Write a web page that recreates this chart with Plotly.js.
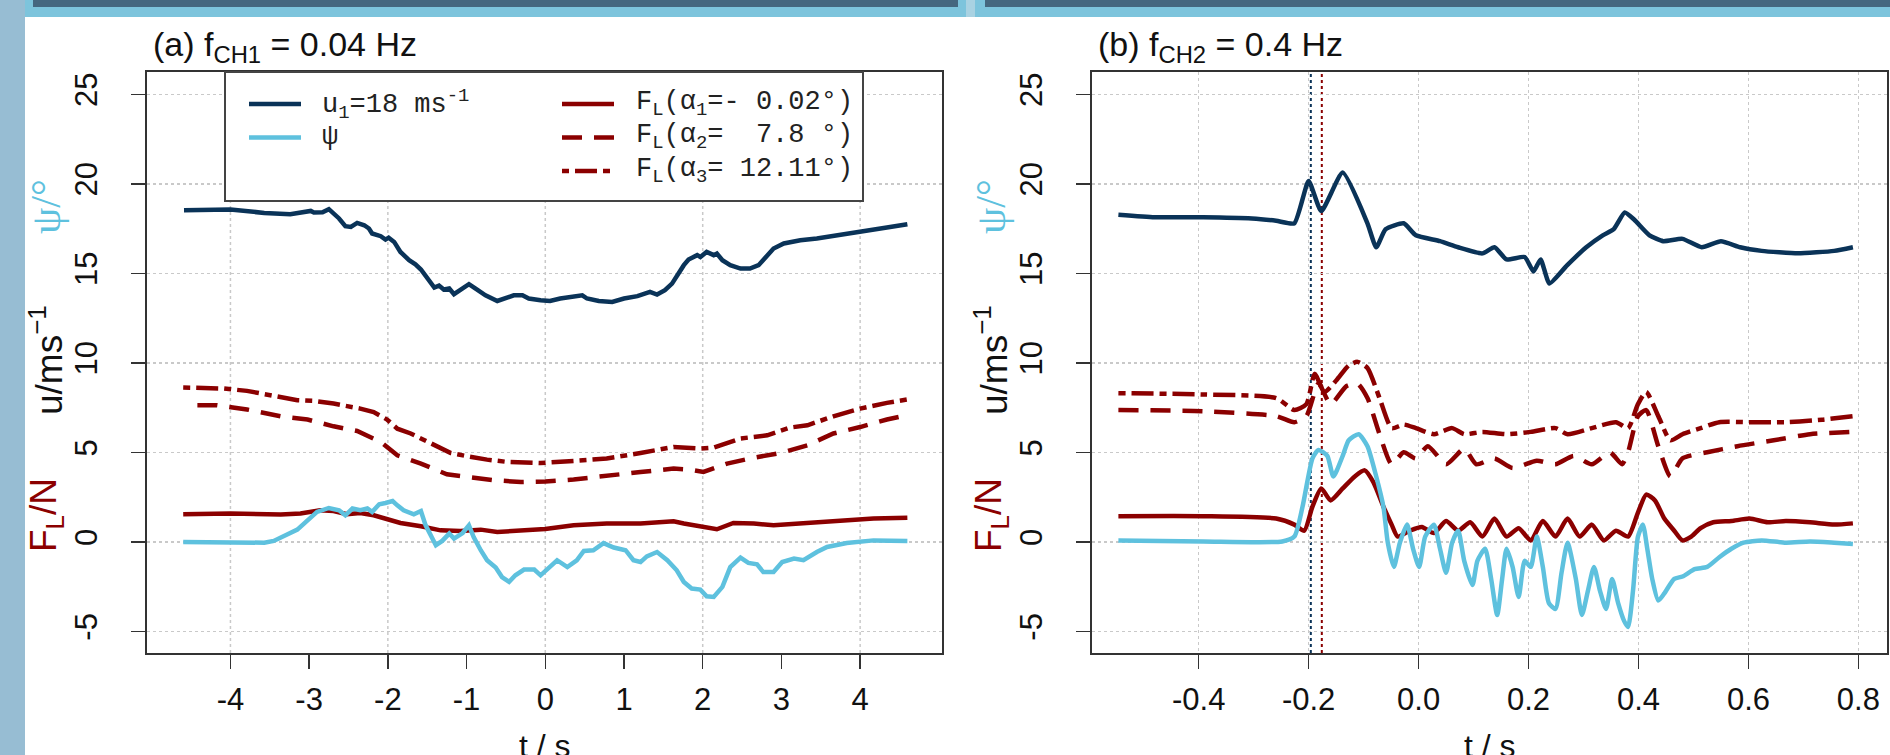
<!DOCTYPE html>
<html>
<head>
<meta charset="utf-8">
<script src="https://cdn.plot.ly/plotly-3.0.1.min.js"></script>
<style>
  html, body { margin: 0; padding: 0; background: #ffffff; }
  #chart { width: 1890px; height: 755px; }
</style>
</head>
<body>
<div id="chart"></div>
<script>
// ---- (a) slow change, f_CH1 = 0.04 Hz : [t / s, value] ----
const uA = [[-4.59,18.53],[-4.0,18.57],[-3.57,18.38],[-3.24,18.31],[-2.98,18.49],[-2.94,18.40],[-2.83,18.42],[-2.75,18.59],[-2.62,18.07],[-2.54,17.64],[-2.47,17.60],[-2.39,17.82],[-2.30,17.69],[-2.24,17.51],[-2.20,17.23],[-2.09,17.08],[-2.03,16.89],[-1.99,17.0],[-1.92,16.76],[-1.84,16.20],[-1.73,15.74],[-1.65,15.51],[-1.58,15.22],[-1.50,14.71],[-1.41,14.21],[-1.35,14.32],[-1.29,14.10],[-1.22,14.16],[-1.16,13.84],[-1.05,14.16],[-0.97,14.40],[-0.89,14.16],[-0.76,13.78],[-0.61,13.46],[-0.50,13.60],[-0.40,13.78],[-0.29,13.78],[-0.21,13.60],[-0.06,13.50],[0.06,13.46],[0.19,13.60],[0.32,13.69],[0.47,13.78],[0.53,13.60],[0.68,13.46],[0.85,13.41],[1.0,13.60],[1.17,13.73],[1.33,13.97],[1.42,13.82],[1.52,14.06],[1.61,14.43],[1.69,15.0],[1.76,15.46],[1.82,15.78],[1.93,16.02],[1.97,15.92],[2.05,16.20],[2.14,16.02],[2.18,16.11],[2.25,15.74],[2.35,15.46],[2.48,15.27],[2.60,15.27],[2.71,15.46],[2.82,16.02],[2.90,16.39],[3.03,16.67],[3.24,16.85],[3.45,16.95],[3.66,17.08],[4.0,17.32],[4.34,17.56],[4.60,17.75]];

const psiA = [[-4.60,0.0],[-4.0,-0.04],[-3.57,-0.04],[-3.45,0.06],[-3.28,0.43],[-3.15,0.69],[-3.02,1.21],[-2.90,1.68],[-2.75,1.90],[-2.62,1.77],[-2.54,1.49],[-2.45,1.87],[-2.35,1.77],[-2.26,1.87],[-2.20,1.68],[-2.11,2.11],[-2.03,2.18],[-1.94,2.29],[-1.88,2.05],[-1.80,1.77],[-1.67,1.55],[-1.58,1.73],[-1.52,0.93],[-1.46,0.47],[-1.39,-0.18],[-1.31,0.06],[-1.22,0.47],[-1.16,0.19],[-1.05,0.50],[-0.97,0.93],[-0.91,0.28],[-0.82,-0.46],[-0.74,-1.02],[-0.63,-1.43],[-0.55,-1.96],[-0.46,-2.23],[-0.38,-1.86],[-0.27,-1.54],[-0.14,-1.54],[-0.06,-1.86],[-0.02,-1.70],[0.06,-1.40],[0.15,-1.02],[0.28,-1.40],[0.40,-1.02],[0.49,-0.50],[0.61,-0.46],[0.74,-0.06],[0.87,-0.31],[1.02,-0.46],[1.12,-1.02],[1.21,-1.12],[1.29,-0.80],[1.42,-0.56],[1.55,-1.02],[1.67,-1.58],[1.76,-2.23],[1.86,-2.60],[1.97,-2.66],[2.05,-3.03],[2.14,-3.07],[2.25,-2.51],[2.35,-1.40],[2.48,-0.87],[2.58,-1.17],[2.69,-1.25],[2.77,-1.68],[2.90,-1.68],[3.01,-1.12],[3.16,-0.93],[3.28,-1.02],[3.45,-0.56],[3.58,-0.28],[3.83,-0.06],[4.17,0.09],[4.60,0.06]];

const fl1A = [[-4.60,1.55],[-4.0,1.59],[-3.36,1.53],[-3.11,1.59],[-2.86,1.77],[-2.69,1.73],[-2.52,1.55],[-2.35,1.62],[-2.18,1.49],[-2.01,1.25],[-1.84,1.06],[-1.58,0.88],[-1.33,0.65],[-1.08,0.61],[-0.82,0.69],[-0.61,0.56],[-0.31,0.65],[0.0,0.72],[0.36,0.93],[0.78,1.03],[1.21,1.03],[1.63,1.16],[1.76,1.03],[1.97,0.84],[2.18,0.71],[2.39,1.06],[2.65,1.03],[2.90,0.93],[3.33,1.06],[3.75,1.21],[4.17,1.31],[4.60,1.36]];

const fl2A = [[-4.42,7.64],[-4.17,7.64],[-3.79,7.40],[-3.36,7.02],[-3.02,6.84],[-2.69,6.46],[-2.39,6.20],[-2.09,5.59],[-1.88,4.84],[-1.58,4.38],[-1.25,3.78],[-0.99,3.63],[-0.65,3.45],[-0.31,3.35],[0.0,3.38],[0.36,3.49],[0.78,3.67],[1.21,3.91],[1.63,4.10],[1.84,4.04],[2.01,3.91],[2.31,4.38],[2.65,4.71],[2.99,4.97],[3.33,5.40],[3.66,6.06],[4.0,6.42],[4.34,6.84],[4.60,7.09]];

const fl3A = [[-4.60,8.63],[-4.08,8.57],[-3.79,8.44],[-3.45,8.14],[-3.15,7.92],[-2.94,7.88],[-2.69,7.73],[-2.35,7.45],[-2.18,7.26],[-2.01,6.84],[-1.88,6.33],[-1.71,6.06],[-1.46,5.53],[-1.20,4.97],[-0.99,4.79],[-0.74,4.60],[-0.48,4.47],[-0.06,4.41],[0.36,4.53],[0.78,4.66],[1.21,4.97],[1.63,5.31],[1.97,5.22],[2.14,5.27],[2.48,5.78],[2.82,5.96],[3.11,6.39],[3.33,6.52],[3.66,7.02],[4.0,7.45],[4.34,7.77],[4.60,7.96]];

// ---- (b) fast change, f_CH2 = 0.4 Hz : [t / s, value] ----
const uB = [[-0.546,18.28],[-0.480,18.14],[-0.392,18.14],[-0.303,18.07],[-0.259,17.94],[-0.226,17.80],[-0.200,20.16],[-0.177,18.48],[-0.138,20.63],[-0.093,17.80],[-0.077,16.46],[-0.060,17.47],[-0.027,17.80],[-0.005,17.13],[0.039,16.80],[0.072,16.46],[0.116,16.12],[0.138,16.46],[0.160,15.78],[0.193,15.92],[0.209,15.11],[0.222,15.78],[0.238,14.44],[0.270,15.45],[0.305,16.46],[0.335,17.13],[0.355,17.47],[0.375,18.40],[0.392,18.01],[0.420,17.13],[0.445,16.80],[0.480,16.93],[0.515,16.46],[0.550,16.80],[0.585,16.46],[0.624,16.26],[0.690,16.12],[0.756,16.26],[0.79,16.46]];

const psiB = [[-0.546,0.09],[-0.392,0.03],[-0.248,0.03],[-0.226,0.30],[-0.211,1.98],[-0.193,4.67],[-0.182,5.14],[-0.166,4.81],[-0.155,3.66],[-0.138,4.81],[-0.127,5.68],[-0.109,6.02],[-0.093,5.35],[-0.077,3.66],[-0.064,1.98],[-0.056,-0.04],[-0.045,-1.39],[-0.034,-0.04],[-0.021,0.97],[-0.010,-0.38],[0.001,-1.39],[0.012,0.30],[0.028,0.97],[0.039,-0.38],[0.050,-1.72],[0.061,-0.04],[0.072,0.63],[0.083,-1.05],[0.098,-2.40],[0.107,-1.05],[0.121,-0.38],[0.132,-2.06],[0.143,-4.08],[0.152,-2.06],[0.160,-0.38],[0.171,-1.39],[0.182,-3.07],[0.193,-1.05],[0.204,-1.39],[0.215,0.30],[0.226,-1.39],[0.237,-3.41],[0.249,-3.74],[0.260,-1.72],[0.271,-0.04],[0.286,-2.06],[0.297,-4.08],[0.308,-2.73],[0.319,-1.39],[0.330,-2.73],[0.341,-3.74],[0.352,-2.06],[0.363,-3.41],[0.374,-4.42],[0.381,-4.75],[0.390,-2.73],[0.399,0.30],[0.408,0.97],[0.416,-0.38],[0.425,-2.06],[0.436,-3.27],[0.447,-2.87],[0.465,-2.06],[0.480,-1.93],[0.502,-1.52],[0.525,-1.39],[0.547,-0.85],[0.569,-0.38],[0.591,-0.04],[0.624,0.09],[0.668,-0.04],[0.712,0.03],[0.756,-0.04],[0.79,-0.11]];

const fl1B = [[-0.546,1.44],[-0.392,1.44],[-0.259,1.31],[-0.226,0.97],[-0.208,0.63],[-0.193,1.98],[-0.177,2.99],[-0.160,2.32],[-0.138,2.99],[-0.116,3.66],[-0.098,4.00],[-0.082,3.33],[-0.064,1.98],[-0.049,0.97],[-0.038,0.30],[-0.016,0.63],[0.006,0.84],[0.028,0.50],[0.050,1.17],[0.072,0.63],[0.094,1.10],[0.116,0.30],[0.138,1.31],[0.160,0.30],[0.182,0.77],[0.204,0.09],[0.226,1.17],[0.249,0.30],[0.271,1.31],[0.293,0.30],[0.315,0.97],[0.337,0.09],[0.359,0.63],[0.381,0.30],[0.399,1.64],[0.414,2.65],[0.430,2.32],[0.447,1.31],[0.465,0.63],[0.480,0.09],[0.496,0.30],[0.513,0.77],[0.536,1.10],[0.569,1.17],[0.602,1.31],[0.635,1.10],[0.668,1.17],[0.712,1.10],[0.756,0.97],[0.79,1.04]];

const fl2B = [[-0.546,7.37],[-0.392,7.30],[-0.259,7.03],[-0.226,6.69],[-0.204,7.03],[-0.182,8.85],[-0.160,7.70],[-0.131,8.71],[-0.111,8.85],[-0.093,8.04],[-0.071,6.02],[-0.049,4.34],[-0.027,5.01],[-0.005,4.67],[0.017,5.35],[0.050,4.34],[0.083,5.21],[0.105,4.34],[0.138,4.67],[0.171,4.13],[0.215,4.54],[0.249,4.34],[0.282,4.81],[0.315,4.34],[0.348,5.01],[0.370,4.34],[0.381,5.01],[0.399,7.03],[0.414,7.37],[0.436,5.35],[0.458,3.66],[0.480,4.67],[0.525,5.01],[0.580,5.35],[0.646,5.68],[0.712,6.02],[0.79,6.15]];

const fl3B = [[-0.546,8.31],[-0.392,8.24],[-0.259,8.04],[-0.226,7.37],[-0.204,7.70],[-0.189,9.39],[-0.171,8.38],[-0.149,9.05],[-0.127,9.86],[-0.111,10.06],[-0.093,9.72],[-0.071,8.04],[-0.049,6.36],[-0.027,6.56],[-0.005,6.36],[0.028,6.02],[0.061,6.36],[0.083,6.02],[0.116,6.15],[0.160,6.02],[0.204,6.15],[0.249,6.36],[0.271,6.02],[0.315,6.36],[0.359,6.69],[0.381,6.36],[0.399,7.70],[0.414,8.38],[0.436,7.03],[0.458,5.68],[0.480,6.02],[0.513,6.36],[0.547,6.69],[0.602,6.69],[0.668,6.69],[0.734,6.83],[0.79,7.03]];

// event markers in (b): onset of wind speed change and of lift response
const onsetU = -0.196;
const onsetF = -0.176;

// axis ticks and labels
const tickA = [-4, -3, -2, -1, 0, 1, 2, 3, 4];
const gridA = [-4, -2, 0, 2, 4];
const tickB = [-0.4, -0.2, 0.0, 0.2, 0.4, 0.6, 0.8];
const tickY = [-5, 0, 5, 10, 15, 20, 25];

const legendLeft = ['u<sub>1</sub>=18 ms<sup>-1</sup>', 'ψ'];
const legendRight = [
  'F<sub>L</sub>(α<sub>1</sub>=-\u00a00.02°)',
  'F<sub>L</sub>(α<sub>2</sub>=\u00a0\u00a07.8\u00a0°)',
  'F<sub>L</sub>(α<sub>3</sub>=\u00a012.11°)'
];

// ---- styling ----
const W = 1890, H = 755;
const C_U = '#0a3358', C_PSI = '#5ec1de', C_F = '#8b0000';
const DASH2 = '20px,12px';
const DASH3 = '7px,6px,22px,6px';
const LW = 4.5;
const SANS = 'Liberation Sans, Arial, Helvetica, sans-serif';
const SERIF = 'Liberation Serif, Times New Roman, serif';
const MONO = 'Liberation Mono, Courier New, monospace';

const px = v => v / W;
const py = v => 1 - v / H;

// panel frames in pixels
const PA = { x0: 147, x1: 942 };
const PB = { x0: 1092, x1: 1887 };
const PY = { top: 72, bottom: 653 };

// the fast record (b) is sampled coarsely, so it is drawn as a smooth curve
function series(pairs, xa, ya, color, dash, name, smooth) {
  const line = { color: color, width: LW, dash: dash || 'solid' };
  if (smooth) { line.shape = 'spline'; line.smoothing = smooth; }
  return {
    type: 'scatter', mode: 'lines', name: name,
    x: pairs.map(p => p[0]), y: pairs.map(p => p[1]),
    xaxis: xa, yaxis: ya, showlegend: false, hoverinfo: 'skip',
    line: line
  };
}

const traces = [
  series(fl3A, 'x', 'y', C_F, DASH3, 'F_L alpha3'),
  series(fl2A, 'x', 'y', C_F, DASH2, 'F_L alpha2'),
  series(fl1A, 'x', 'y', C_F, 'solid', 'F_L alpha1'),
  series(uA, 'x', 'y', C_U, 'solid', 'u1'),
  series(psiA, 'x', 'y', C_PSI, 'solid', 'psi'),
  series(fl3B, 'x2', 'y2', C_F, DASH3, 'F_L alpha3', 0.6),
  series(fl2B, 'x2', 'y2', C_F, DASH2, 'F_L alpha2', 0.6),
  series(fl1B, 'x2', 'y2', C_F, 'solid', 'F_L alpha1', 0.6),
  series(uB, 'x2', 'y2', C_U, 'solid', 'u1', 0.5),
  series(psiB, 'x2', 'y2', C_PSI, 'solid', 'psi', 0.6)
];

const axBase = {
  showline: true, mirror: true, linecolor: '#333', linewidth: 2,
  ticks: 'outside', ticklen: 14, tickwidth: 1.5, tickcolor: '#333',
  tickfont: { family: SANS, size: 31, color: '#111' },
  zeroline: false, fixedrange: true,
  gridcolor: '#c9c9c9', gridwidth: 1.5, griddash: 'dot'
};

const yDomain = [py(PY.bottom), py(PY.top)];
const yAxis = Object.assign({}, axBase, {
  domain: yDomain, range: [-6.2, 26.25],
  tickmode: 'array', tickvals: tickY, ticktext: tickY.map(String),
  tickangle: -90, showgrid: true, ticklabelstandoff: 22
});

const layout = {
  width: W, height: H,
  margin: { l: 0, r: 0, t: 0, b: 0, pad: 0 },
  paper_bgcolor: '#ffffff', plot_bgcolor: 'rgba(0,0,0,0)',
  showlegend: false,
  font: { family: SANS, color: '#111' },
  xaxis: Object.assign({}, axBase, {
    domain: [px(PA.x0), px(PA.x1)], range: [-5.06, 5.04], anchor: 'y',
    tickmode: 'array', tickvals: tickA, ticktext: tickA.map(String),
    showgrid: false, ticklabelstandoff: 4
  }),
  yaxis: Object.assign({}, yAxis, { anchor: 'x' }),
  xaxis2: Object.assign({}, axBase, {
    domain: [px(PB.x0), px(PB.x1)], range: [-0.594, 0.852], anchor: 'y2',
    tickmode: 'array', tickvals: tickB, ticktext: tickB.map(v => v.toFixed(1)),
    showgrid: true, ticklabelstandoff: 4
  }),
  yaxis2: Object.assign({}, yAxis, { anchor: 'x2' }),
  shapes: [],
  annotations: []
};

// slide frame around the figure
const S = layout.shapes;
function rectPx(x0, y0, x1, y1, fill, layer) {
  S.push({ type: 'rect', xref: 'paper', yref: 'paper', x0: px(x0), x1: px(x1), y0: py(y1), y1: py(y0),
           fillcolor: fill, line: { width: 0 }, layer: layer || 'below' });
}
rectPx(0, 0, 25, H, '#97bdd3');
rectPx(25, 0, W, 17, '#7dc4dc');
rectPx(966, 0, 975, 17, '#a9d2e2');
rectPx(33, 0, 958, 7, '#45677f');
rectPx(985, 0, W, 7, '#45677f');

// vertical grid of panel (a) at every second tick
gridA.forEach(v => S.push({
  type: 'line', xref: 'x', yref: 'y domain', x0: v, x1: v, y0: 0, y1: 1,
  line: { color: '#c9c9c9', width: 1.5, dash: 'dot' }, layer: 'below'
}));

// onset markers in panel (b)
[[onsetU, C_U], [onsetF, C_F]].forEach(([t, c]) => S.push({
  type: 'line', xref: 'x2', yref: 'y2 domain', x0: t, x1: t, y0: 0, y1: 1,
  line: { color: c, width: 2, dash: 'dot' }, layer: 'below'
}));

// legend box of panel (a)
S.push({ type: 'rect', xref: 'paper', yref: 'paper', x0: px(225), x1: px(863), y0: py(201), y1: py(PY.top),
         fillcolor: '#ffffff', line: { color: '#444', width: 2 }, layer: 'above' });
const legRows = [104, 137.5, 171];
function legLine(x0, x1, row, color, dash) {
  S.push({ type: 'line', xref: 'paper', yref: 'paper', x0: px(x0), x1: px(x1), y0: py(row), y1: py(row),
           line: { color: color, width: LW, dash: dash }, layer: 'above' });
}
legLine(249, 301, legRows[0], C_U, 'solid');
legLine(249, 301, legRows[1], C_PSI, 'solid');
legLine(562, 614, legRows[0], C_F, 'solid');
legLine(562, 614, legRows[1], C_F, DASH2);
legLine(562, 614, legRows[2], C_F, DASH3);

const A = layout.annotations;
function note(text, x, y, opts) {
  A.push(Object.assign({
    text: text, xref: 'paper', yref: 'paper', x: px(x), y: py(y),
    xanchor: 'left', yanchor: 'middle', showarrow: false,
    font: { family: SANS, size: 32, color: '#111' }
  }, opts || {}));
}
const legFont = { family: MONO, size: 27, color: '#222' };
legendLeft.forEach((t, i) => note(t, 320, legRows[i], { font: legFont }));
legendRight.forEach((t, i) => note(t, 634, legRows[i], { font: legFont }));

// panel titles
const titleFont = { family: SANS, size: 34, color: '#111' };
note('(a) f<sub>CH1</sub> = 0.04 Hz', 151, 47, { font: titleFont });
note('(b) f<sub>CH2</sub> = 0.4 Hz', 1096, 47, { font: titleFont });

// multi-coloured y titles and x titles for both panels
[0, PB.x0 - PA.x0].forEach(dx => {
  const rot = { textangle: -90, xanchor: 'center', yanchor: 'middle' };
  note('<span style="font-family:' + SERIF + '">ψ/°</span>', 46 + dx, 207,
       Object.assign({}, rot, { font: { family: SERIF, size: 42, color: C_PSI } }));
  note('u/ms<sup>−1</sup>', 46 + dx, 360,
       Object.assign({}, rot, { font: { family: SANS, size: 37, color: '#111' } }));
  note('F<sub>L</sub>/N', 46 + dx, 515,
       Object.assign({}, rot, { font: { family: SANS, size: 37, color: C_F } }));
});
const xtFont = { family: SANS, size: 32, color: '#111' };
note('t / s', (PA.x0 + PA.x1) / 2, 726, { xanchor: 'center', yanchor: 'top', font: xtFont });
note('t / s', (PB.x0 + PB.x1) / 2, 726, { xanchor: 'center', yanchor: 'top', font: xtFont });

Plotly.newPlot('chart', traces, layout, { staticPlot: true, displayModeBar: false });
</script>
</body>
</html>
